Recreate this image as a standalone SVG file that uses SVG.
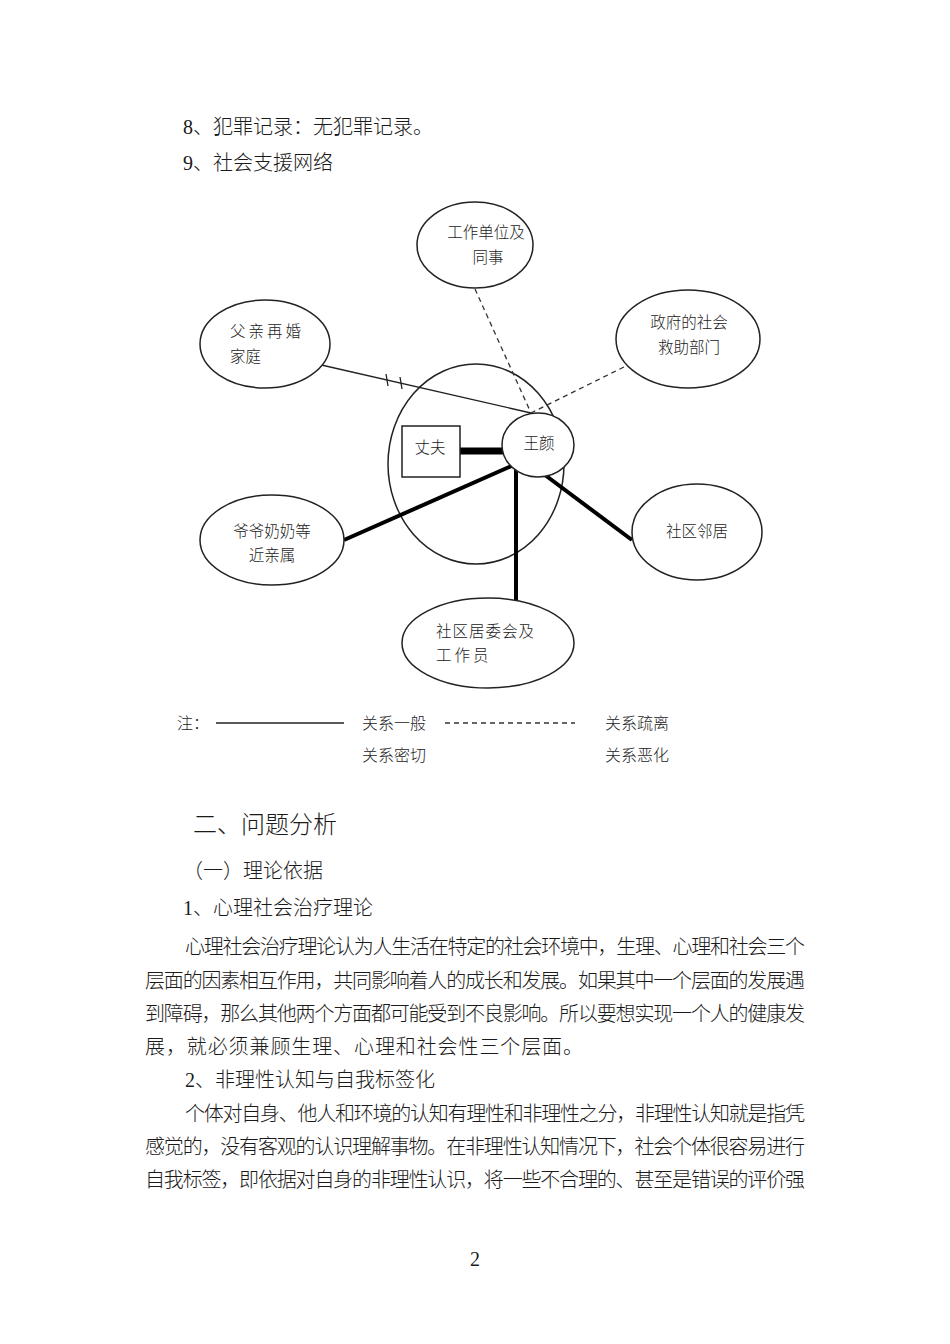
<svg xmlns="http://www.w3.org/2000/svg" width="950" height="1344" viewBox="0 0 950 1344">
<style>
.t{font-family:'Liberation Serif','Noto Sans CJK SC',serif;font-size:20px;fill:#1a1a1a;font-weight:300}
.h{font-family:'Liberation Serif','Noto Sans CJK SC',serif;font-size:24px;fill:#1a1a1a;font-weight:300}
.n{font-family:'Noto Sans CJK SC',sans-serif;font-size:15.5px;fill:#222;font-weight:300}
.l{font-family:'Noto Sans CJK SC',sans-serif;font-size:16px;fill:#222;font-weight:300}
.shape{fill:#fff;stroke:#222;stroke-width:1.5}
.thin{stroke:#222;stroke-width:1.3;fill:none}
.dash{stroke:#333;stroke-width:1.3;stroke-dasharray:5,4;fill:none}
.thick{stroke:#000;stroke-width:4;fill:none}
</style>
<rect width="950" height="1344" fill="#fff"/>
<text class="t" x="183" y="134">8、犯罪记录：无犯罪记录。</text>
<text class="t" x="183" y="170">9、社会支援网络</text>

<g id="bigcircle"><ellipse cx="476" cy="464" rx="88" ry="100" fill="none" stroke="#222" stroke-width="1.5"/></g>

<g id="connectors">
<line x1="317" y1="364" x2="531" y2="413" class="thin"/>
<line x1="386" y1="374" x2="388" y2="386" class="thin" stroke-width="2"/>
<line x1="400" y1="377" x2="402" y2="389" class="thin" stroke-width="2"/>
<line x1="475" y1="289" x2="531" y2="413" class="dash"/>
<line x1="632" y1="363" x2="531" y2="413" class="dash"/>
<line x1="460" y1="451" x2="504" y2="451" stroke="#000" stroke-width="7"/>
<line x1="516" y1="464" x2="344" y2="540" class="thick"/>
<line x1="516" y1="464" x2="516" y2="600" class="thick"/>
<line x1="545" y1="475" x2="632" y2="540" class="thick"/>
</g>

<g id="node-work"><ellipse cx="475" cy="245" rx="58" ry="43" class="shape"/>
<text class="n" x="486" y="238" text-anchor="middle">工作单位及</text>
<text class="n" x="488" y="263" text-anchor="middle">同事</text></g>

<g id="node-gov"><ellipse cx="688" cy="339" rx="72" ry="49" class="shape"/>
<text class="n" x="689" y="328" text-anchor="middle">政府的社会</text>
<text class="n" x="689" y="353" text-anchor="middle">救助部门</text></g>

<g id="node-father"><ellipse cx="265" cy="344" rx="65" ry="44" class="shape"/>
<text class="n" x="230" y="337" letter-spacing="3">父亲再婚</text>
<text class="n" x="230" y="362">家庭</text></g>

<g id="node-husband"><rect x="402" y="426" width="58" height="51" class="shape" stroke-width="2"/>
<text class="n" x="430" y="453" text-anchor="middle" font-size="14">丈夫</text></g>

<g id="node-wangyan"><ellipse cx="538" cy="445" rx="36" ry="32" class="shape"/>
<text class="n" x="539" y="449" text-anchor="middle" font-size="14">王颜</text></g>

<g id="node-grand"><ellipse cx="272" cy="540" rx="72" ry="45" class="shape"/>
<text class="n" x="272" y="537" text-anchor="middle">爷爷奶奶等</text>
<text class="n" x="272" y="561" text-anchor="middle">近亲属</text></g>

<g id="node-neighbor"><ellipse cx="697" cy="532" rx="65" ry="48" class="shape"/>
<text class="n" x="697" y="537" text-anchor="middle">社区邻居</text></g>

<g id="node-committee"><ellipse cx="488" cy="643" rx="86" ry="45" class="shape"/>
<text class="n" x="436" y="637" letter-spacing="1">社区居委会及</text>
<text class="n" x="436" y="661" letter-spacing="3">工作员</text></g>

<g id="legend">
<text class="l" x="177" y="729">注：</text>
<line x1="216" y1="723" x2="344" y2="723" stroke="#222" stroke-width="1.5"/>
<text class="l" x="362" y="729">关系一般</text>
<line x1="445" y1="723" x2="575" y2="723" stroke="#333" stroke-width="1.3" stroke-dasharray="5,4"/>
<text class="l" x="605" y="729">关系疏离</text>
<text class="l" x="362" y="761">关系密切</text>
<text class="l" x="605" y="761">关系恶化</text>
</g>

<text class="h" x="193" y="833">二、问题分析</text>
<text class="t" x="183" y="878">（一）理论依据</text>
<text class="t" x="183" y="915">1、心理社会治疗理论</text>
<text class="t" x="185" y="954" textLength="620" lengthAdjust="spacing">心理社会治疗理论认为人生活在特定的社会环境中，生理、心理和社会三个</text>
<text class="t" x="145" y="988" textLength="660" lengthAdjust="spacing">层面的因素相互作用，共同影响着人的成长和发展。如果其中一个层面的发展遇</text>
<text class="t" x="145" y="1021" textLength="660" lengthAdjust="spacing">到障碍，那么其他两个方面都可能受到不良影响。所以要想实现一个人的健康发</text>
<text class="t" x="145" y="1054" textLength="438" lengthAdjust="spacing">展，就必须兼顾生理、心理和社会性三个层面。</text>
<text class="t" x="185" y="1087">2、非理性认知与自我标签化</text>
<text class="t" x="185" y="1121" textLength="620" lengthAdjust="spacing">个体对自身、他人和环境的认知有理性和非理性之分，非理性认知就是指凭</text>
<text class="t" x="145" y="1154" textLength="660" lengthAdjust="spacing">感觉的，没有客观的认识理解事物。在非理性认知情况下，社会个体很容易进行</text>
<text class="t" x="145" y="1187" textLength="660" lengthAdjust="spacing">自我标签，即依据对自身的非理性认识，将一些不合理的、甚至是错误的评价强</text>
<text class="t" x="475" y="1266" text-anchor="middle" font-size="16">2</text>
</svg>
